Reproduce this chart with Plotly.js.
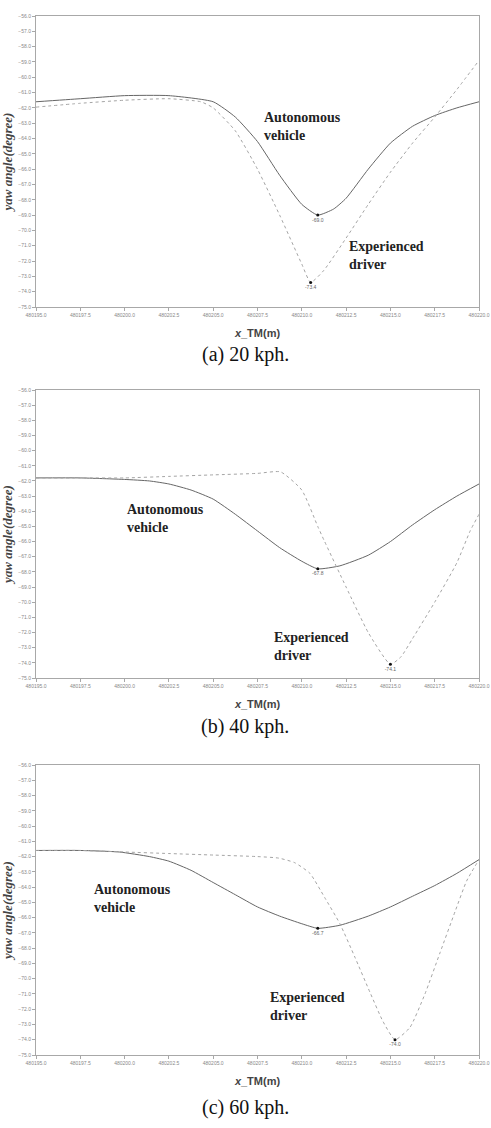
<!DOCTYPE html>
<html>
<head>
<meta charset="utf-8">
<script src="https://cdn.plot.ly/plotly-3.0.1.min.js"></script>
<style>html,body{margin:0;padding:0;background:#fff;}#chart{width:491px;height:1128px;}</style>
</head>
<body>
<div id="chart"></div>
<script>
// ---- data ----
var xTicks = [480195.0, 480197.5, 480200.0, 480202.5, 480205.0, 480207.5, 480210.0, 480212.5, 480215.0, 480217.5, 480220.0];

// (a) 20 kph
var a_auto_x = [480195.0, 480197.5, 480200.0, 480202.5, 480205.0, 480206.25, 480207.5, 480208.75, 480210.0, 480210.9, 480211.8, 480212.5, 480213.75, 480215.0, 480216.25, 480217.5, 480218.75, 480220.0];
var a_auto_y = [-61.6, -61.4, -61.2, -61.2, -61.6, -62.6, -64.2, -66.4, -68.3, -69.0, -68.6, -67.9, -66.0, -64.3, -63.2, -62.5, -62.0, -61.6];
var a_exp_x  = [480195.0, 480197.5, 480200.0, 480202.5, 480204.3, 480205.0, 480206.25, 480207.5, 480208.75, 480210.0, 480210.5, 480211.25, 480212.5, 480213.75, 480215.0, 480216.25, 480217.5, 480218.75, 480220.0];
var a_exp_y  = [-61.95, -61.7, -61.5, -61.4, -61.6, -62.0, -63.5, -66.0, -69.0, -72.2, -73.4, -72.6, -70.5, -68.3, -66.2, -64.3, -62.6, -60.8, -58.9];
var a_min_x = [480210.9, 480210.5];
var a_min_y = [-69.0, -73.4];

// (b) 40 kph
var b_auto_x = [480195.0, 480197.5, 480200.0, 480201.4, 480202.5, 480203.75, 480205.0, 480206.25, 480207.5, 480208.75, 480210.0, 480210.9, 480212.15, 480213.75, 480215.0, 480216.25, 480217.5, 480218.75, 480220.0];
var b_auto_y = [-61.8, -61.8, -61.9, -62.0, -62.2, -62.6, -63.2, -64.2, -65.3, -66.4, -67.3, -67.8, -67.6, -66.9, -66.0, -64.9, -63.9, -63.0, -62.2];
var b_exp_x  = [480195.0, 480197.5, 480200.0, 480202.5, 480205.0, 480207.5, 480208.8, 480210.0, 480210.9, 480211.25, 480212.5, 480213.75, 480215.0, 480215.6, 480216.25, 480217.5, 480218.75, 480219.5, 480220.0];
var b_exp_y  = [-61.8, -61.8, -61.8, -61.7, -61.6, -61.5, -61.4, -62.6, -65.0, -65.9, -69.0, -72.0, -74.1, -73.6, -72.4, -70.0, -67.4, -65.3, -64.2];
var b_min_x = [480210.9, 480215.0];
var b_min_y = [-67.8, -74.1];

// (c) 60 kph
var c_auto_x = [480195.0, 480197.5, 480199.7, 480201.4, 480202.5, 480203.75, 480205.0, 480206.25, 480207.5, 480208.75, 480210.0, 480210.9, 480212.15, 480213.75, 480215.0, 480216.25, 480217.5, 480218.75, 480220.0];
var c_auto_y = [-61.6, -61.6, -61.7, -62.0, -62.3, -62.9, -63.7, -64.5, -65.3, -65.9, -66.4, -66.7, -66.5, -65.9, -65.3, -64.6, -63.9, -63.1, -62.2];
var c_exp_x  = [480195.0, 480197.5, 480200.0, 480202.5, 480205.0, 480207.5, 480208.7, 480209.6, 480210.46, 480211.3, 480212.15, 480213.0, 480213.85, 480214.58, 480215.26, 480216.1, 480216.95, 480217.8, 480218.65, 480219.3, 480220.0];
var c_exp_y  = [-61.6, -61.6, -61.7, -61.8, -61.9, -62.0, -62.1, -62.4, -63.1, -64.7, -66.4, -68.6, -70.9, -72.8, -74.0, -73.2, -71.0, -68.3, -65.6, -63.6, -62.2];
var c_min_x = [480210.9, 480215.26];
var c_min_y = [-66.7, -74.0];

var seriesNames = ['Autonomous vehicle', 'Experienced driver'];
var captions = ['(a) 20 kph.', '(b) 40 kph.', '(c) 60 kph.'];

// ---- styling ----
var autoLine = {color: '#666666', width: 1, shape: 'spline', smoothing: 0.5};
var expLine  = {color: '#a5a5a5', width: 1, dash: 'dot', shape: 'spline', smoothing: 0.5};

var panels = [
  {ax: '', auto: [a_auto_x, a_auto_y], exp: [a_exp_x, a_exp_y], min: [a_min_x, a_min_y]},
  {ax: '2', auto: [b_auto_x, b_auto_y], exp: [b_exp_x, b_exp_y], min: [b_min_x, b_min_y]},
  {ax: '3', auto: [c_auto_x, c_auto_y], exp: [c_exp_x, c_exp_y], min: [c_min_x, c_min_y]}
];

var traces = [];
panels.forEach(function(p){
  var xa = 'x' + p.ax, ya = 'y' + p.ax;
  traces.push({x: p.auto[0], y: p.auto[1], xaxis: xa, yaxis: ya, mode: 'lines', line: autoLine, name: seriesNames[0], hoverinfo: 'skip'});
  traces.push({x: p.exp[0], y: p.exp[1], xaxis: xa, yaxis: ya, mode: 'lines', line: expLine, name: seriesNames[1], hoverinfo: 'skip'});
  traces.push({x: p.min[0], y: p.min[1], xaxis: xa, yaxis: ya, mode: 'markers+text',
    marker: {color: '#111', size: 3},
    text: p.min[1].map(function(v){return v.toFixed(1);}),
    textposition: 'bottom center', textfont: {size: 5, color: '#666', family: 'Liberation Sans'},
    hoverinfo: 'skip'});
});

var W = 491, H = 1128;
function dom(top, bottom){ return [1 - bottom / H, 1 - top / H]; }
var xDom = [36 / W, 479 / W];
var yDoms = [dom(16, 307), dom(390, 678), dom(765, 1055)];

function xAxis(anchor){
  return {domain: xDom, anchor: anchor, range: [480195, 480220], tickvals: xTicks, tickformat: '.1f',
    showgrid: false, zeroline: false, showline: true, mirror: true, linecolor: '#a8a8a8', linewidth: 1,
    ticks: 'outside', ticklen: 3, tickcolor: '#a8a8a8',
    tickfont: {size: 5, color: '#888', family: 'Liberation Sans'},
    title: {text: '<b><i>x</i>_TM(m)</b>', font: {size: 11, color: '#444', family: 'Liberation Sans'}, standoff: 12}};
}
function yAxis(anchor, d){
  return {domain: d, anchor: anchor, range: [-75, -56], dtick: 1, tick0: -75, tickformat: '.1f',
    showgrid: false, zeroline: false, showline: true, mirror: true, linecolor: '#a8a8a8', linewidth: 1,
    ticks: 'outside', ticklen: 3, tickcolor: '#a8a8a8',
    tickfont: {size: 5, color: '#888', family: 'Liberation Sans'},
    title: {text: '<b><i>yaw angle(degree)</i></b>', font: {size: 13, color: '#444', family: 'Liberation Serif'}, standoff: 2}};
}

var layout = {
  width: W, height: H, margin: {l: 0, r: 0, t: 0, b: 0},
  paper_bgcolor: '#fff', plot_bgcolor: '#fff', showlegend: false,
  xaxis: xAxis('y'), yaxis: yAxis('x', yDoms[0]),
  xaxis2: xAxis('y2'), yaxis2: yAxis('x2', yDoms[1]),
  xaxis3: xAxis('y3'), yaxis3: yAxis('x3', yDoms[2]),
  annotations: []
};

var lblFont = {family: 'Liberation Serif', size: 14, color: '#222'};
var labelPos = [
  [[480207.75, -62.0], [480212.55, -70.4]],
  [[480200.0, -63.25], [480208.3, -71.7]],
  [[480198.16, -63.55], [480208.1, -70.6]]
];
panels.forEach(function(p, i){
  var xa = 'x' + p.ax, ya = 'y' + p.ax;
  layout.annotations.push({x: labelPos[i][0][0], y: labelPos[i][0][1], xref: xa, yref: ya, xanchor: 'left', yanchor: 'top', align: 'left', showarrow: false,
    text: '<b>Autonomous<br>vehicle</b>', font: lblFont});
  layout.annotations.push({x: labelPos[i][1][0], y: labelPos[i][1][1], xref: xa, yref: ya, xanchor: 'left', yanchor: 'top', align: 'left', showarrow: false,
    text: '<b>Experienced<br>driver</b>', font: lblFont});
});
var capY = [354, 726, 1107];
captions.forEach(function(c, i){
  layout.annotations.push({x: 245 / W, y: 1 - capY[i] / H, xref: 'paper', yref: 'paper', xanchor: 'center', yanchor: 'middle', showarrow: false,
    text: c, font: {family: 'Liberation Serif', size: 20, color: '#111'}});
});

Plotly.newPlot('chart', traces, layout, {staticPlot: true, displayModeBar: false});
</script>
</body>
</html>
